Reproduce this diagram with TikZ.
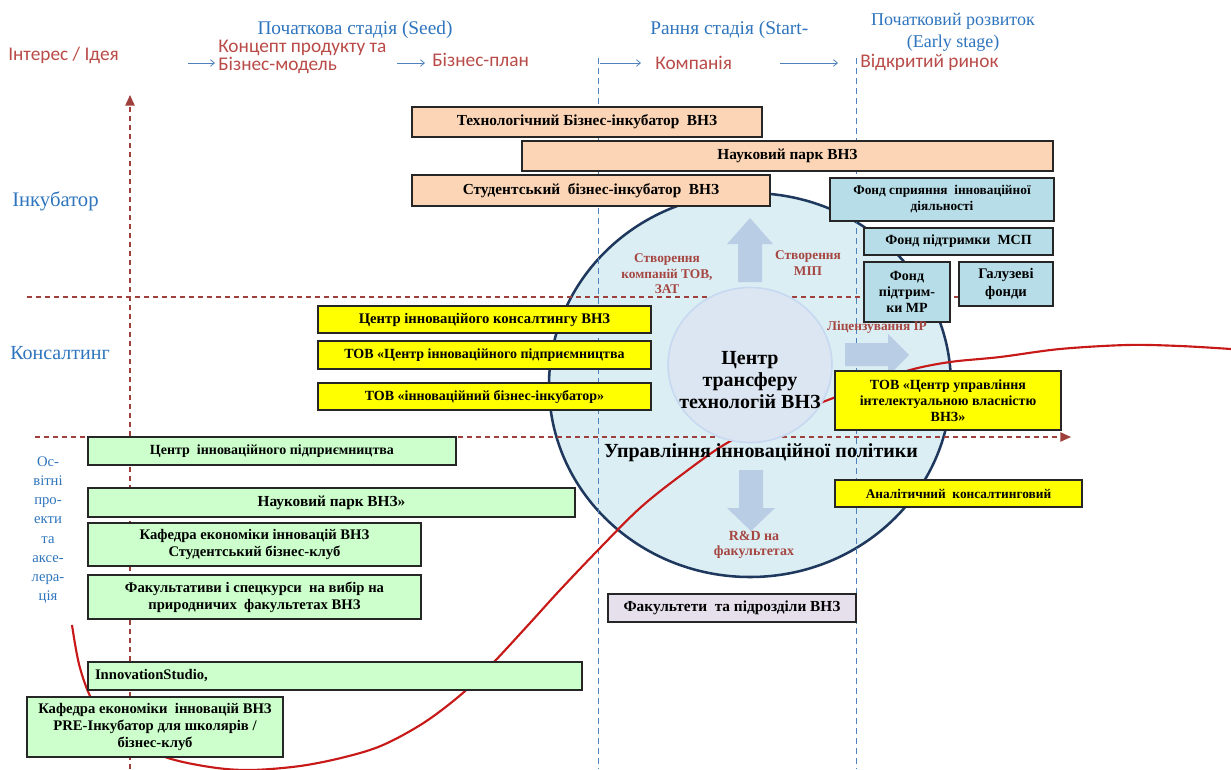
\documentclass[tikz,border=0pt]{standalone}
\usepackage{fontspec}
\setmainfont{Liberation Serif}
\newfontfamily\calfont{Carlito}
\usetikzlibrary{arrows.meta,shapes.geometric}
\definecolor{peach}{RGB}{251,213,181}
\definecolor{lblue}{RGB}{183,222,232}
\definecolor{ylw}{RGB}{255,255,0}
\definecolor{lgreen}{RGB}{204,255,204}
\definecolor{lav}{RGB}{229,224,236}
\definecolor{circfill}{RGB}{219,238,244}
\definecolor{circline}{RGB}{31,56,94}
\definecolor{innfill}{RGB}{220,230,242}
\definecolor{innline}{RGB}{198,217,241}
\definecolor{barrow}{RGB}{185,205,229}
\definecolor{hblue}{RGB}{46,117,190}
\definecolor{hred}{RGB}{185,75,72}
\definecolor{dred}{RGB}{160,64,60}
\definecolor{lblred}{RGB}{165,70,65}
\definecolor{vblue}{RGB}{79,129,189}
\definecolor{curvec}{RGB}{200,25,25}
\begin{document}
\begin{tikzpicture}[x=0.75pt,y=-0.75pt,
  bx/.style={draw=black!85, line width=1.2pt, inner sep=1pt, align=center,
    font=\bfseries\fontsize{10.5}{12}\selectfont},
  big/.style={font=\bfseries\fontsize{11.5}{13}\selectfont},
  small/.style={font=\bfseries\fontsize{10}{12}\selectfont},
  sz/.style 2 args={minimum width=#1*0.75pt, minimum height=#2*0.75pt},
  hdr/.style={text=hblue, inner sep=0pt, font=\fontsize{14.5}{16.5}\selectfont, align=center},
  stg/.style={text=hred, inner sep=0pt, font=\calfont\fontsize{14.5}{13}\selectfont, align=left},
  side/.style={text=hblue, inner sep=0pt, font=\fontsize{15.5}{17}\selectfont},
  clab/.style={text=lblred, inner sep=0pt, align=center, font=\bfseries\fontsize{10}{11.6}\selectfont},
  harrow/.style={draw=vblue, line width=0.6pt, -{Straight Barb[length=3pt,width=5pt]}},
  vdash/.style={draw=vblue, line width=0.7pt, dash pattern=on 4.5pt off 3pt},
  rdash/.style={draw=dred, line width=1.1pt, dash pattern=on 3.75pt off 3pt},
  barr/.style={fill=barrow, draw=none}
]
\useasboundingbox (0,0) rectangle (1231,769);
\fill[white] (0,0) rectangle (1231,769);

% big circle
\node[ellipse, fill=circfill, draw=circline, line width=1.9pt, minimum width=402*0.75pt, minimum height=384*0.75pt] (bigc) at (750,385) {};

% dashed guide lines
\coordinate (v1t) at (598,58); \coordinate (v1b) at (598,769);
\coordinate (v2t) at (856,58); \coordinate (v2b) at (856,769);
\draw[vdash] (v1t) -- (v1b);
\draw[vdash] (v2t) -- (v2b);
\coordinate (h1s) at (27,297); \coordinate (h1e) at (1000,297);
\draw[rdash] (h1s) -- (h1e);
\coordinate (h2s) at (35,437); \coordinate (h2e) at (1071,437);
\draw[rdash, -{Triangle[length=8pt,width=7pt]}] (h2s) -- (h2e);
\coordinate (axb) at (130,769); \coordinate (axt) at (130,95);
\draw[rdash, -{Triangle[length=8pt,width=7pt]}] (axb) -- (axt);

% red S-curve
\begin{scope}
\clip (0,0) rectangle (1231,769);
\draw[curvec, line width=1.6pt] plot[smooth, tension=0.55] coordinates {
 (72,625) (80,668) (95,705) (125,737) (165,757) (210,767) (250,770) (300,766)
 (345,757) (383,745) (425,722) (464,692) (494,662) (530,623) (560,590)
 (600,548) (640,508) (680,476) (727,443) (780,418) (828,400) (870,384)
 (910,370) (950,362) (1000,357) (1060,349) (1127,345) (1180,346) (1231,349)};
\end{scope}

% inner circle
\node[ellipse, fill=innfill, draw=innline, line width=1.2pt, minimum width=164*0.75pt, minimum height=155*0.75pt] (innc) at (750,365) {};

% block arrows
\fill[barr] (750,218) -- (773,244) -- (762,244) -- (762,282) -- (738,282) -- (738,244) -- (727,244) -- cycle;
\fill[barr] (909,355) -- (888,334) -- (888,343) -- (845,343) -- (845,366) -- (888,366) -- (888,376) -- cycle;
\fill[barr] (751,531) -- (775,508) -- (763,508) -- (763,470) -- (739,470) -- (739,508) -- (727,508) -- cycle;

% peach boxes
\node[bx, big, fill=peach, sz={350}{30}] (tbi) at (587,122) {Технологічний Бізнес-інкубатор\ \ ВНЗ};
\node[bx, big, fill=peach, sz={531}{30}] (npark) at (787.5,156) {Науковий парк ВНЗ};
\node[bx, big, fill=peach, sz={358}{31}] (sbi) at (591,190.5) {Студентський\ \ бізнес-інкубатор\ \ ВНЗ};

% light blue boxes
\node[bx, small, fill=lblue, sz={224}{43}] (fsid) at (942,199.5) {Фонд сприяння\ \ інноваційної\\діяльності};
\node[bx, fill=lblue, sz={189}{27}] (fmsp) at (958.5,241.5) {Фонд підтримки\ \ МСП};
\node[bx, fill=lblue, sz={86}{60}] (fmr) at (907,292) {Фонд\\підтрим-\\ки МР};
\node[bx, fill=lblue, sz={94}{44}, font=\bfseries\fontsize{11}{13}\selectfont] (galuz) at (1006,284) {Галузеві\\фонди};

% yellow boxes
\node[bx, fill=ylw, sz={333}{27}, font=\bfseries\fontsize{11}{12}\selectfont] (cik) at (484.5,319.5) {Центр інноваційого консалтингу ВНЗ};
\node[bx, fill=ylw, sz={333}{28}] (tovcip) at (484.5,355) {ТОВ «Центр інноваційного підприємництва};
\node[bx, fill=ylw, sz={333}{27}] (tovibi) at (484.5,396.5) {ТОВ «інноваційний бізнес-інкубатор»};
\node[bx, fill=ylw, sz={226}{59}] (tovcuiv) at (948,400.5) {ТОВ «Центр управління\\інтелектуальною власністю\\ВНЗ»};
\node[bx, small, fill=ylw, sz={247}{27}] (analit) at (958.5,493.5) {Аналітичний\ \ консалтинговий};

% green boxes
\node[bx, fill=lgreen, sz={368}{28}] (cip) at (272,451) {Центр\ \ інноваційного підприємництва};
\node[bx, big, fill=lgreen, sz={487}{29}] (np2) at (331.5,502.5) {Науковий парк ВНЗ»};
\node[bx, fill=lgreen, sz={333}{43}, font=\bfseries\fontsize{11}{12.5}\selectfont] (kaf) at (254.5,544.5) {Кафедра економіки інновацій ВНЗ\\Студентський бізнес-клуб};
\node[bx, fill=lgreen, sz={333}{44}, font=\bfseries\fontsize{11}{12.5}\selectfont] (fak) at (254.5,597) {Факультативи і спецкурси\ \ на вибір на\\природничих\ \ факультетах ВНЗ};
\node[bx, fill=lgreen, sz={494}{28}, text width=480*0.75pt, align=left, font=\bfseries\fontsize{11}{12}\selectfont] (innov) at (335,676) {InnovationStudio,};
\node[bx, fill=lgreen, sz={256}{60}, font=\bfseries\fontsize{11}{12.5}\selectfont] (kafpre) at (155,727) {Кафедра економіки\ \ інновацій ВНЗ\\PRE-Інкубатор для школярів /\\бізнес-клуб};

% lavender box
\node[bx, big, fill=lav, sz={248}{28}] (fakpid) at (732,608) {Факультети\ \ та підрозділи ВНЗ};

% circle texts
\node[inner sep=0pt, align=center, font=\bfseries\fontsize{15}{16.5}\selectfont] (ctt) at (750,380) {Центр\\трансферу\\технологій ВНЗ};
\node[inner sep=0pt, font=\bfseries\fontsize{15}{16}\selectfont] (uip) at (761,453) {Управління інноваційної політики};
\node[clab] (stov) at (667,274) {Створення\\компаній ТОВ,\\ЗАТ};
\node[clab] (smip) at (808,263) {Створення\\МІП};
\node[clab] (lic) at (877,327) {Ліцензування ІР};
\node[clab, font=\bfseries\fontsize{10.5}{11.6}\selectfont] (rnd) at (754,545) {R\&D на\\факультетах};

% header
\node[hdr] (seed) at (355,30) {Початкова стадія (Seed)};
\node[hdr, anchor=west] (start) at (650,30) {Рання стадія (Start-};
\node[hdr, font=\fontsize{13.5}{16.5}\selectfont] (early) at (953,32) {Початковий розвиток\\(Early stage)};
\node[stg, anchor=west] (idea) at (8,55) {Інтерес / Ідея};
\node[stg, anchor=west] (concept) at (218,57) {Концепт продукту та\\Бізнес-модель};
\node[stg, anchor=west] (bplan) at (432,60) {Бізнес-план};
\node[stg, anchor=west] (comp) at (655,63) {Компанія};
\node[stg, anchor=west] (market) at (860,62) {Відкритий ринок};
\coordinate (a1s) at (188,63); \coordinate (a1e) at (215,63);
\coordinate (a2s) at (397,63); \coordinate (a2e) at (425,63);
\coordinate (a3s) at (600,63); \coordinate (a3e) at (641,63);
\coordinate (a4s) at (780,63); \coordinate (a4e) at (838,63);
\draw[harrow] (a1s) -- (a1e);
\draw[harrow] (a2s) -- (a2e);
\draw[harrow] (a3s) -- (a3e);
\draw[harrow] (a4s) -- (a4e);

% side labels
\node[side, anchor=west] (inkub) at (12,201) {Інкубатор};
\node[side, anchor=west, font=\fontsize{15}{17}\selectfont] (kons) at (10,353) {Консалтинг};
\node[inner sep=0pt, text=hblue, align=center, font=\fontsize{11}{14.4}\selectfont] (osv) at (48,530) {Ос-\\вітні\\про-\\екти\\та\\аксе-\\лера-\\ція};
\end{tikzpicture}
\end{document}
